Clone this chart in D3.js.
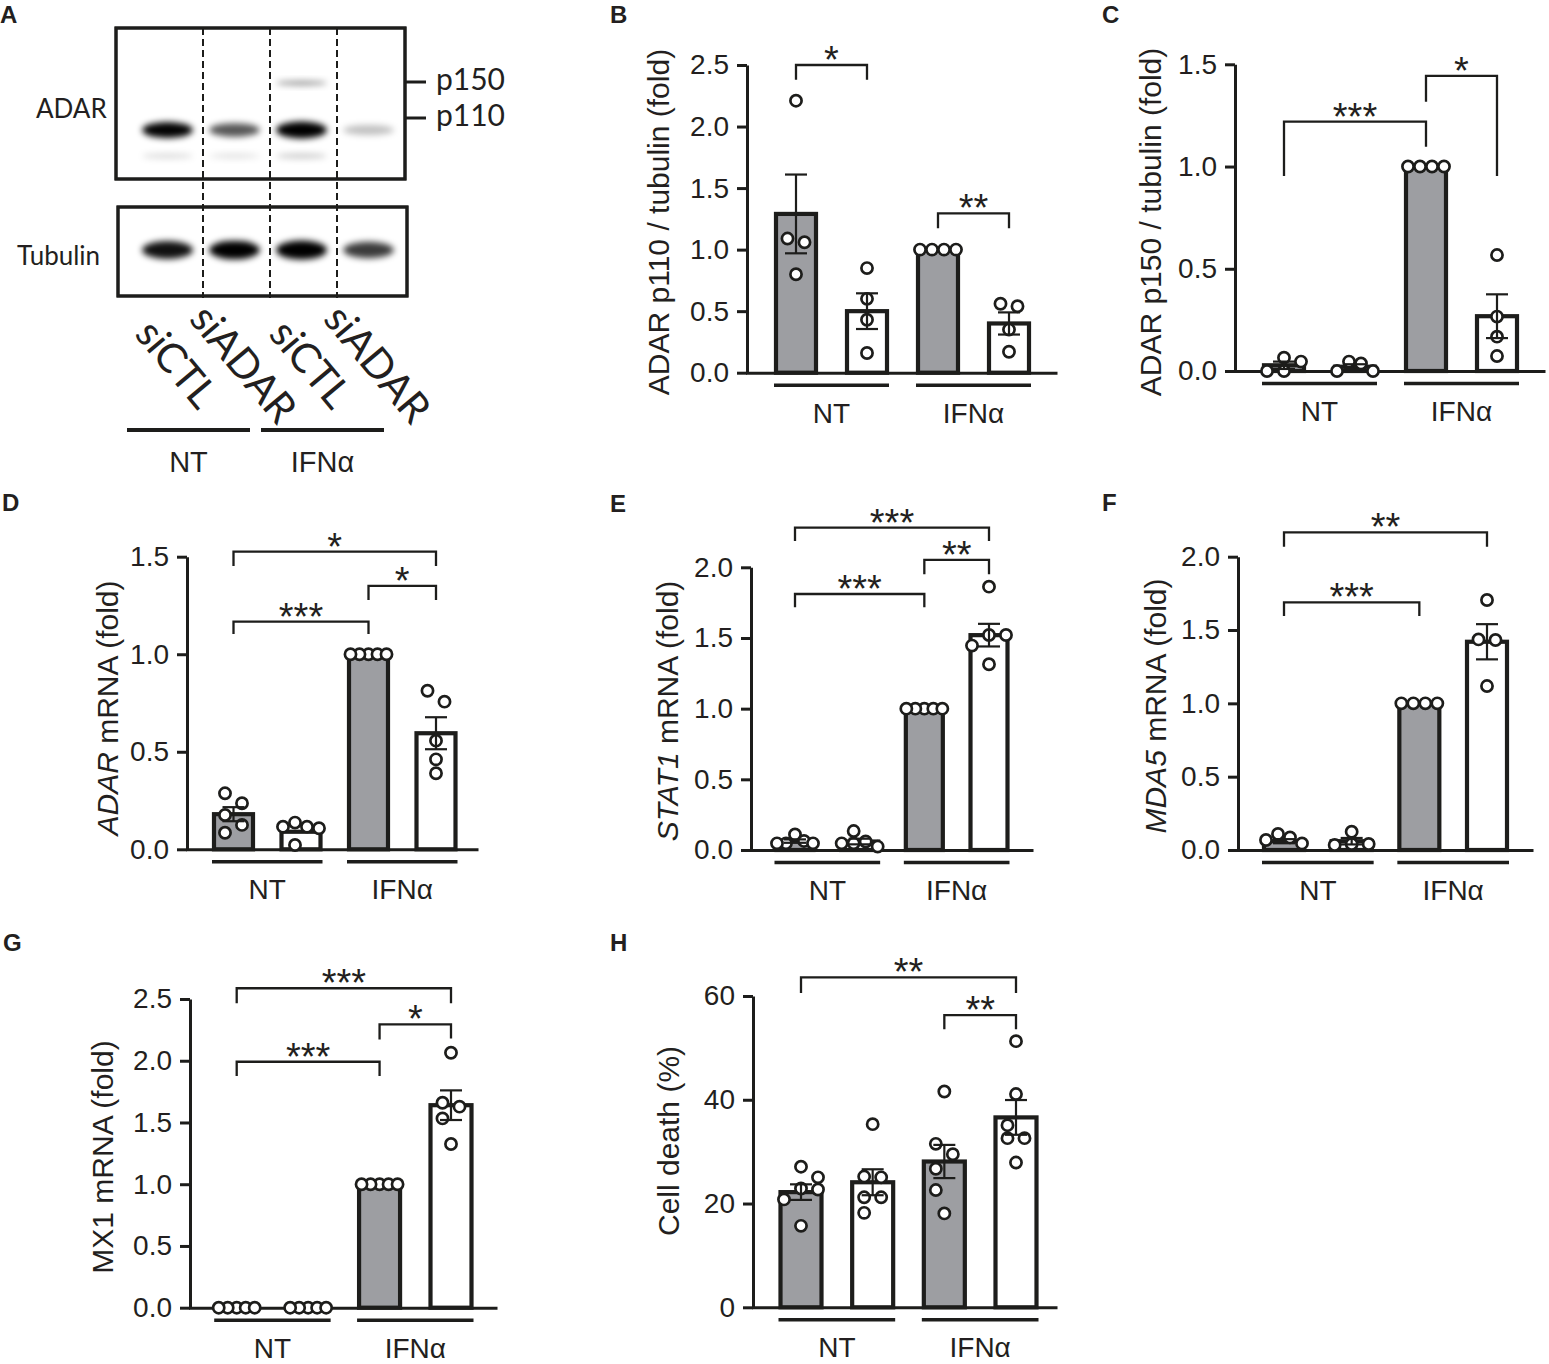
<!DOCTYPE html>
<html>
<head>
<meta charset="utf-8">
<script src="https://cdn.jsdelivr.net/npm/d3@7"></script>
<style>
  body { margin: 0; background: #fff; }
  svg { display: block; }
  text { font-family: "Liberation Sans", Arial, Helvetica, sans-serif; fill: #231f20; }
</style>
</head>
<body>
<div id="figure"></div>
<script>
'use strict'

////////////////////////////////////
//////////// data //////////////////
////////////////////////////////////

const conditions = ["NT siCTL", "NT siADAR", "IFNα siCTL", "IFNα siADAR"]
const groups = ["NT", "IFNα"]

// panel A : western blot, relative band darkness per lane
const lanes = ["siCTL", "siADAR", "siCTL", "siADAR"]
const p150Band = [0, 0, 0.35, 0]
const p110Band = [0.9, 0.6, 1.0, 0.22]
const lowBand = [0.12, 0.1, 0.18, 0]
const tubulinBand = [0.85, 0.95, 1.0, 0.7]

// panel B : ADAR p110 / tubulin
const bMeans = [1.29, 0.50, 1.00, 0.40]
const bSem = [0.32, 0.145, 0, 0.09]
const bPoints = [[2.21, 1.09, 1.06, 0.80], [0.85, 0.60, 0.43, 0.16], [1, 1, 1, 1], [0.56, 0.54, 0.35, 0.17]]
const bTicks = [0, 0.5, 1.0, 1.5, 2.0, 2.5]
// [from bar, to bar, top, left end, right end, label]
const bBrackets = [[0, 1, 2.5, 2.38, 2.38, "*"], [2, 3, 1.295, 1.173, 1.173, "**"]]

// panel C : ADAR p150 / tubulin
const cMeans = [0.028, 0.021, 1.0, 0.268]
const cSem = [0.018, 0.012, 0, 0.107]
const cPoints = [[0.065, 0.046, 0, 0], [0.046, 0.037, 0, 0], [1, 1, 1, 1], [0.567, 0.266, 0.168, 0.073]]
const cTicks = [0, 0.5, 1.0, 1.5]
const cBrackets = [[0, 2, 1.22, 0.954, 1.097, "***"], [2, 3, 1.443, 1.317, 0.954, "*"]]

// panel D : ADAR mRNA
const dMeans = [0.18, 0.09, 1.0, 0.595]
const dSem = [0.036, 0, 0, 0.082]
const dPoints = [[0.287, 0.236, 0.176, 0.125, 0.085], [0.137, 0.116, 0.116, 0.108, 0.022], [1, 1, 1, 1, 1], [0.813, 0.757, 0.557, 0.461, 0.39]]
const dTicks = [0, 0.5, 1.0, 1.5]
const dBrackets = [[0, 3, 1.526, 1.452, 1.452, "*"], [2, 3, 1.35, 1.278, 1.278, "*"], [0, 2, 1.167, 1.104, 1.104, "***"]]

// panel E : STAT1 mRNA
const eMeans = [0.063, 0.06, 1.0, 1.52]
const eSem = [0.012, 0.02, 0, 0.08]
const ePoints = [[0.11, 0.064, 0.047, 0.047, 0.047], [0.134, 0.06, 0.047, 0.047, 0.024], [1, 1, 1, 1, 1], [1.863, 1.521, 1.521, 1.446, 1.314]]
const eTicks = [0, 0.5, 1.0, 1.5, 2.0]
const eBrackets = [[0, 3, 2.28, 2.186, 2.186, "***"], [2, 3, 2.052, 1.95, 1.95, "**"], [0, 2, 1.811, 1.717, 1.717, "***"]]

// panel F : MDA5 mRNA
const fMeans = [0.06, 0.06, 1.0, 1.42]
const fSem = [0.014, 0.022, 0, 0.12]
const fPoints = [[0.109, 0.086, 0.068, 0.045], [0.125, 0.041, 0.041, 0.034], [1, 1, 1, 1], [1.705, 1.436, 1.432, 1.118]]
const fTicks = [0, 0.5, 1.0, 1.5, 2.0]
const fBrackets = [[0, 3, 2.166, 2.068, 2.068, "**"], [0, 2, 1.689, 1.595, 1.595, "***"]]

// panel G : MX1 mRNA
const gMeans = [0, 0, 1.0, 1.64]
const gSem = [0, 0, 0, 0.12]
const gPoints = [[0, 0, 0, 0, 0], [0, 0, 0, 0, 0], [1, 1, 1, 1, 1], [2.065, 1.66, 1.628, 1.533, 1.326]]
const gTicks = [0, 0.5, 1.0, 1.5, 2.0, 2.5]
const gBrackets = [[0, 3, 2.587, 2.465, 2.465, "***"], [2, 3, 2.295, 2.173, 2.18, "*"], [0, 2, 1.992, 1.876, 1.876, "***"]]

// panel H : cell death
const hMeans = [22.2, 24.1, 28.1, 36.6]
const hSem = [1.5, 2.5, 3.2, 3.35]
const hPoints = [[27.1, 25.05, 22.9, 22.7, 20.8, 15.7], [35.3, 25.2, 25.05, 21.2, 21.2, 18.2], [41.6, 31.5, 29.5, 26.7, 22.6, 18.1], [51.3, 41.1, 35.1, 32.6, 32.6, 27.9]]
const hTicks = [0, 20, 40, 60]
const hBrackets = [[0, 3, 63.6, 60.6, 60.6, "**"], [2, 3, 56.3, 53.6, 53.6, "**"]]

////////////////////////////////////
//////////// svg setup /////////////
////////////////////////////////////

const ink = "#1d1d1b"
const grey = "#9d9ea2"

const svg = d3.select('#figure')
    .append('svg')
    .attr('width', 1549)
    .attr('height', 1364)
    .attr('viewBox', '0 0 1549 1364')

svg.append('defs').append('filter')
    .attr('id', 'band-blur')
    .attr('x', '-30%').attr('y', '-100%').attr('width', '160%').attr('height', '300%')
    .append('feGaussianBlur')
    .attr('stdDeviation', 3)

// panel letters
const letters = [["A", 0, 23], ["B", 610, 23], ["C", 1102, 23], ["D", 2, 511],
                 ["E", 610, 512], ["F", 1102, 511], ["G", 3, 951], ["H", 610, 951]]
svg.selectAll('.letter')
    .data(letters)
    .join('text')
    .attr('class', 'letter')
    .attr('x', d => d[1])
    .attr('y', d => d[2])
    .attr('font-size', 24)
    .attr('font-weight', 'bold')
    .text(d => d[0])

////////////////////////////////////
//////////// panel A ///////////////
////////////////////////////////////

function drawBlot() {
    const g = svg.append('g')
    const lane = d3.scaleBand().domain(conditions).range([136, 404])
    const bw = lane.bandwidth()
    const blotFont = 'Lato, "Open Sans", sans-serif'

    g.append('rect').attr('x', 116).attr('y', 28).attr('width', 289).attr('height', 151)
        .attr('fill', '#fff').attr('stroke', ink).attr('stroke-width', 3)
    g.append('rect').attr('x', 118).attr('y', 207).attr('width', 289).attr('height', 89)
        .attr('fill', '#fff').attr('stroke', ink).attr('stroke-width', 3)

    const bands = [[p150Band, 83, 3], [p110Band, 130, 7], [lowBand, 156, 4], [tubulinBand, 250, 8]]
    bands.forEach(([vals, cy, thick]) => {
        g.selectAll(null)
            .data(conditions.filter((c, i) => vals[i] > 0))
            .join('ellipse')
            .attr('cx', c => lane(c) + bw / 2 - 2)
            .attr('cy', cy)
            .attr('rx', bw * 0.38)
            .attr('ry', c => thick * (0.6 + 0.6 * vals[conditions.indexOf(c)]))
            .attr('fill', '#000')
            .attr('fill-opacity', c => Math.min(1, vals[conditions.indexOf(c)] * 1.1))
            .attr('filter', 'url(#band-blur)')
    })

    // lane separators
    g.selectAll('.sep')
        .data(conditions.slice(1))
        .join('line')
        .attr('x1', c => lane(c)).attr('x2', c => lane(c))
        .attr('y1', 28).attr('y2', 298)
        .attr('stroke', ink).attr('stroke-width', 2).attr('stroke-dasharray', '7,4')

    // redraw box outlines over blur
    g.append('rect').attr('x', 116).attr('y', 28).attr('width', 289).attr('height', 151)
        .attr('fill', 'none').attr('stroke', ink).attr('stroke-width', 3)
    g.append('rect').attr('x', 118).attr('y', 207).attr('width', 289).attr('height', 89)
        .attr('fill', 'none').attr('stroke', ink).attr('stroke-width', 3)

    // markers
    const markers = [["p150", 82], ["p110", 118]]
    markers.forEach(([t, my]) => {
        g.append('line').attr('x1', 405).attr('x2', 426).attr('y1', my).attr('y2', my)
            .attr('stroke', ink).attr('stroke-width', 3)
        g.append('text').attr('x', 436).attr('y', my + 8).attr('font-size', 30)
            .style('font-family', blotFont).text(t)
    })
    g.append('text').attr('x', 36).attr('y', 118).attr('font-size', 26)
        .style('font-family', blotFont).text('ADAR')
    g.append('text').attr('x', 17).attr('y', 265).attr('font-size', 26)
        .style('font-family', blotFont).text('Tubulin')

    // rotated lane labels
    g.selectAll('.lane-label')
        .data(conditions)
        .join('text')
        .attr('text-anchor', 'middle')
        .attr('dominant-baseline', 'central')
        .attr('font-size', 41)
        .style('font-family', blotFont)
        .attr('transform', c => `translate(${lane(c) + bw / 2 + 8},363) rotate(50)`)
        .text((c, i) => lanes[i])

    groups.forEach((grp, gi) => {
        const x1 = lane(conditions[gi * 2]) - 9
        const x2 = lane(conditions[gi * 2 + 1]) + bw - 20
        g.append('line').attr('x1', x1).attr('x2', x2).attr('y1', 430).attr('y2', 430)
            .attr('stroke', ink).attr('stroke-width', 4)
        g.append('text').attr('x', (x1 + x2) / 2).attr('y', 472).attr('text-anchor', 'middle')
            .attr('font-size', 29).text(grp)
    })
}

////////////////////////////////////
//////////// bar panels ////////////
////////////////////////////////////

const panels = [
    { means: bMeans, sem: bSem, points: bPoints, ticks: bTicks, brackets: bBrackets, fmt: '.1f',
      label: [['ADAR p110 / tubulin (fold)', false]],
      axisX: 747, xEnd: 1057, y0: 372.7, yTop: 65, max: 2.5, c0: 796, c3: 1009, barW: 40, labelX: 658, labelY: 222 },
    { means: cMeans, sem: cSem, points: cPoints, ticks: cTicks, brackets: cBrackets, fmt: '.1f',
      label: [['ADAR p150 / tubulin (fold)', false]],
      axisX: 1235, xEnd: 1545, y0: 371, yTop: 64.3, max: 1.5, c0: 1284, c3: 1497, barW: 40, labelX: 1150, labelY: 222 },
    { means: dMeans, sem: dSem, points: dPoints, ticks: dTicks, brackets: dBrackets, fmt: '.1f',
      label: [['ADAR', true], [' mRNA (fold)', false]],
      axisX: 187, xEnd: 478, y0: 849.3, yTop: 556.7, max: 1.5, c0: 233.5, c3: 436, barW: 39, labelX: 107, labelY: 708 },
    { means: eMeans, sem: eSem, points: ePoints, ticks: eTicks, brackets: eBrackets, fmt: '.1f',
      label: [['STAT1', true], [' mRNA (fold)', false]],
      axisX: 751, xEnd: 1033, y0: 850, yTop: 567.3, max: 2, c0: 795, c3: 989, barW: 37, labelX: 667, labelY: 711 },
    { means: fMeans, sem: fSem, points: fPoints, ticks: fTicks, brackets: fBrackets, fmt: '.1f',
      label: [['MDA5', true], [' mRNA (fold)', false]],
      axisX: 1238, xEnd: 1533, y0: 850, yTop: 556.7, max: 2, c0: 1284, c3: 1487, barW: 40, labelX: 1155, labelY: 706 },
    { means: gMeans, sem: gSem, points: gPoints, ticks: gTicks, brackets: gBrackets, fmt: '.1f',
      label: [['MX1 mRNA (fold)', false]],
      axisX: 190, xEnd: 497, y0: 1307.7, yTop: 999, max: 2.5, c0: 236.7, c3: 451, barW: 41, labelX: 102, labelY: 1157 },
    { means: hMeans, sem: hSem, points: hPoints, ticks: hTicks, brackets: hBrackets, fmt: 'd',
      label: [['Cell death (%)', false]],
      axisX: 753, xEnd: 1057, y0: 1307.3, yTop: 996, max: 60, c0: 801, c3: 1016, barW: 41, labelX: 668, labelY: 1141 }
]

// spread replicate dots sideways where they would overlap (GraphPad-like)
function swarm(values, y, cx) {
    const D = 12, STEP = 17, LINK = 23, HALF = 18
    const pts = values.map(v => ({ v, y: y(v), dx: 0 })).sort((a, b) => a.y - b.y)
    const placed = []
    pts.forEach(p => {
        for (let k = 0; k < 30; k++) {
            const off = k === 0 ? 0 : (k % 2 ? 1 : -1) * Math.ceil(k / 2) * STEP
            if (placed.every(q => Math.hypot(q.dx - off, q.y - p.y) >= D)) { p.dx = off; break }
        }
        placed.push(p)
    })
    const seen = new Set()
    placed.forEach(p => {
        if (seen.has(p)) return
        const comp = [p]
        seen.add(p)
        for (let i = 0; i < comp.length; i++) {
            placed.forEach(q => {
                if (!seen.has(q) && Math.hypot(q.dx - comp[i].dx, q.y - comp[i].y) < LINK) {
                    seen.add(q)
                    comp.push(q)
                }
            })
        }
        const lo = d3.min(comp, c => c.dx), hi = d3.max(comp, c => c.dx)
        const mid = (lo + hi) / 2, half = (hi - lo) / 2
        const k = half > HALF ? HALF / half : 1
        comp.forEach(c => { c.dx = (c.dx - mid) * k })
    })
    return placed.map(p => ({ x: cx + p.dx, y: p.y }))
}

function drawPanel(p) {
    const g = svg.append('g')
    const y = d3.scaleLinear().domain([0, p.max]).range([p.y0, p.yTop])
    const x = d3.scalePoint().domain(conditions).range([p.c0, p.c3])
    const half = p.barW / 2

    // y axis
    const yAxis = g.append('g')
        .attr('transform', `translate(${p.axisX},0)`)
        .call(d3.axisLeft(y).tickValues(p.ticks).tickFormat(d3.format(p.fmt))
            .tickSize(10).tickSizeOuter(0).tickPadding(8))
    yAxis.attr('font-size', 28).attr('font-family', null).attr('color', ink)
    yAxis.select('.domain').attr('stroke-width', 3)
    yAxis.selectAll('.tick line').attr('stroke-width', 3)
    yAxis.selectAll('.tick text').attr('fill', '#231f20')

    // x baseline
    const xBase = d3.scaleLinear().range([p.axisX - 1.5, p.xEnd])
    const xAxis = g.append('g')
        .attr('transform', `translate(0,${p.y0})`)
        .call(d3.axisBottom(xBase).tickValues([]).tickSizeOuter(0))
    xAxis.attr('color', ink).select('.domain').attr('stroke-width', 3)

    // bars
    g.selectAll('.bar')
        .data(conditions.filter((c, i) => p.means[i] > 0))
        .join('rect')
        .attr('x', c => x(c) - half)
        .attr('y', c => y(p.means[conditions.indexOf(c)]))
        .attr('width', p.barW)
        .attr('height', c => p.y0 - y(p.means[conditions.indexOf(c)]))
        .attr('fill', c => conditions.indexOf(c) % 2 === 0 ? grey : '#fff')
        .attr('stroke', ink)
        .attr('stroke-width', 4.2)

    // replicate dots
    conditions.forEach((c, i) => {
        g.selectAll(null)
            .data(swarm(p.points[i], y, x(c)))
            .join('circle')
            .attr('cx', d => d.x)
            .attr('cy', d => d.y)
            .attr('r', 5.6)
            .attr('fill', '#fff')
            .attr('stroke', ink)
            .attr('stroke-width', 2.7)
    })

    // SEM error bars
    conditions.forEach((c, i) => {
        if (!(p.sem[i] > 0)) return
        const lo = y(Math.max(0, p.means[i] - p.sem[i])), hi = y(p.means[i] + p.sem[i])
        const cx = x(c)
        const eg = g.append('g').attr('stroke', ink).attr('stroke-width', 2.2)
        eg.append('line').attr('x1', cx).attr('x2', cx).attr('y1', lo).attr('y2', hi)
        eg.append('line').attr('x1', cx - 11).attr('x2', cx + 11).attr('y1', hi).attr('y2', hi)
        eg.append('line').attr('x1', cx - 11).attr('x2', cx + 11).attr('y1', lo).attr('y2', lo)
    })

    // group underlines + labels
    groups.forEach((grp, gi) => {
        const x1 = x(conditions[gi * 2]) - half - 2
        const x2 = x(conditions[gi * 2 + 1]) + half + 2
        g.append('line').attr('x1', x1).attr('x2', x2)
            .attr('y1', p.y0 + 12.5).attr('y2', p.y0 + 12.5)
            .attr('stroke', ink).attr('stroke-width', 3.5)
        g.append('text').attr('x', (x1 + x2) / 2).attr('y', p.y0 + 50)
            .attr('text-anchor', 'middle').attr('font-size', 28).text(grp)
    })

    // significance brackets
    p.brackets.forEach(([a, b, top, l, r, lab]) => {
        const x1 = x(conditions[a]), x2 = x(conditions[b])
        g.append('path')
            .attr('d', `M${x1},${y(l)}V${y(top)}H${x2}V${y(r)}`)
            .attr('fill', 'none').attr('stroke', ink).attr('stroke-width', 2.3)
        g.append('text').attr('x', (x1 + x2) / 2).attr('y', y(top) + 8)
            .attr('text-anchor', 'middle').attr('font-size', 38).text(lab)
    })

    // y axis title
    const t = g.append('text')
        .attr('transform', `translate(${p.labelX},${p.labelY}) rotate(-90)`)
        .attr('text-anchor', 'middle')
        .attr('dominant-baseline', 'central')
        .attr('font-size', 30)
    p.label.forEach(([s, it]) => {
        t.append('tspan').attr('font-style', it ? 'italic' : 'normal').text(s)
    })
}

drawBlot()
panels.forEach(drawPanel)
</script>
</body>
</html>
